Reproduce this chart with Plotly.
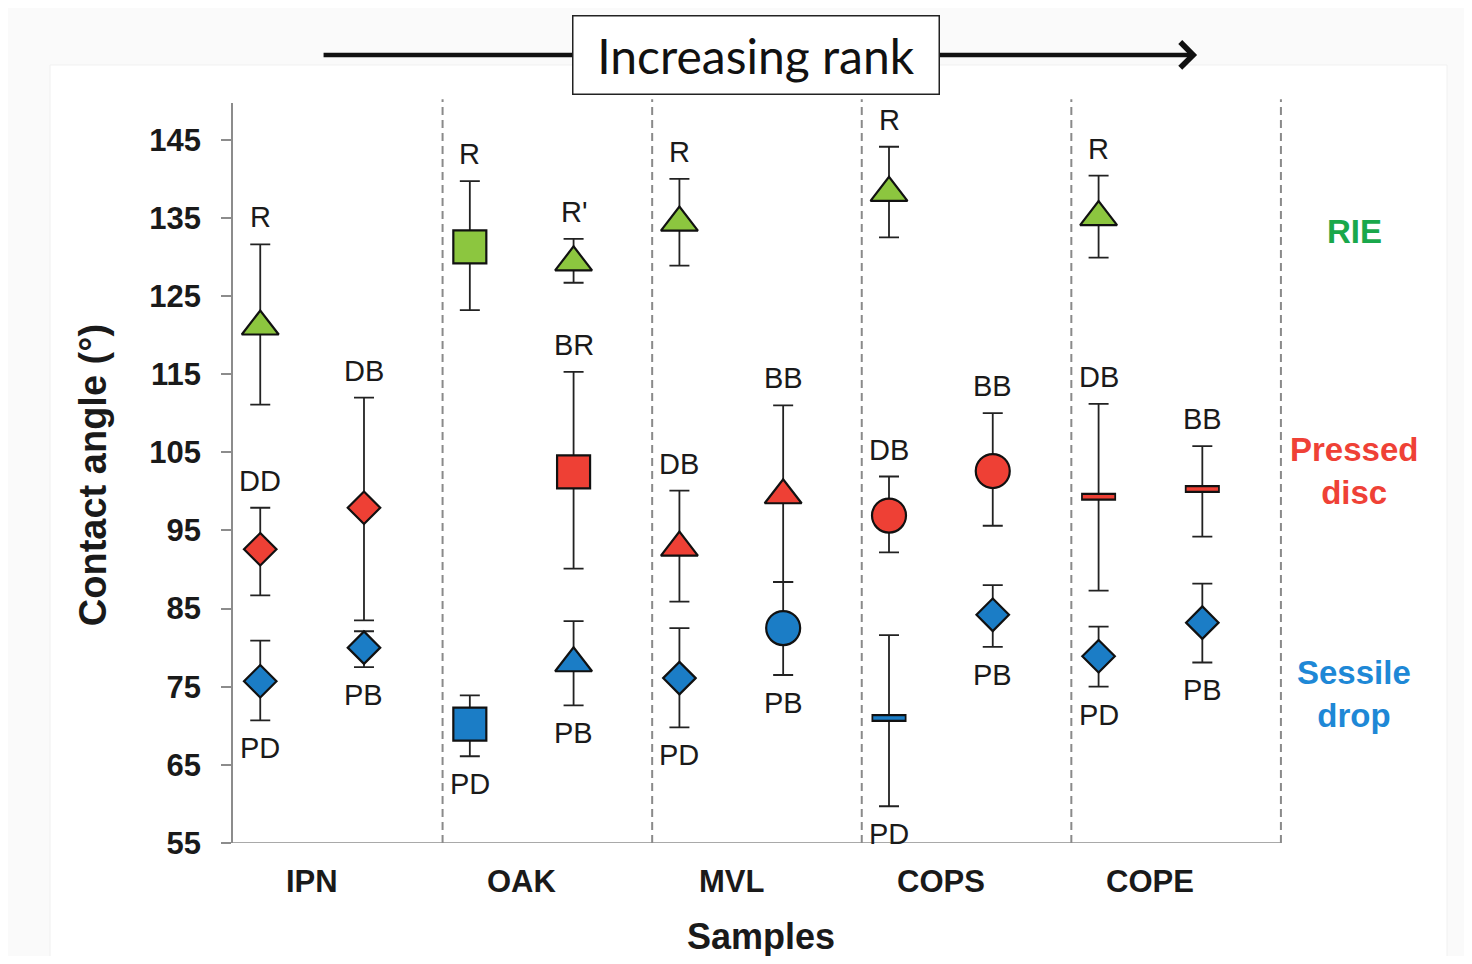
import plotly.graph_objects as go

# ---------------- data ----------------
samples = ["IPN", "OAK", "MVL", "COPS", "COPE"]
y_ticks = [55, 65, 75, 85, 95, 105, 115, 125, 135, 145]

pt_sample = [0, 0, 0, 0, 0,
             1, 1, 1, 1, 1,
             2, 2, 2, 2, 2,
             3, 3, 3, 3, 3,
             4, 4, 4, 4, 4]
pt_slot = [0, 0, 0, 1, 1,
           0, 0, 1, 1, 1,
           0, 0, 0, 1, 1,
           0, 0, 0, 1, 1,
           0, 0, 0, 1, 1]
pt_label = ["R", "DD", "PD", "DB", "PB",
            "R", "PD", "R'", "BR", "PB",
            "R", "DB", "PD", "BB", "PB",
            "R", "DB", "PD", "BB", "PB",
            "R", "DB", "PD", "BB", "PB"]
pt_method = ["RIE", "Pressed disc", "Sessile drop", "Pressed disc", "Sessile drop",
             "RIE", "Sessile drop", "RIE", "Pressed disc", "Sessile drop",
             "RIE", "Pressed disc", "Sessile drop", "Pressed disc", "Sessile drop",
             "RIE", "Pressed disc", "Sessile drop", "Pressed disc", "Sessile drop",
             "RIE", "Pressed disc", "Sessile drop", "Pressed disc", "Sessile drop"]
pt_value = [121.1, 92.6, 75.7, 97.9, 80.0,
            131.3, 70.2, 129.3, 102.5, 78.0,
            134.4, 92.8, 76.1, 99.5, 82.5,
            138.2, 96.9, 71.0, 102.6, 84.2,
            135.1, 99.3, 78.9, 100.3, 83.2]
pt_upper = [131.6, 97.9, 80.9, 112.0, 82.1,
            139.7, 73.9, 132.3, 115.3, 83.4,
            140.0, 100.1, 82.5, 111.0, 88.4,
            144.1, 101.9, 81.6, 110.0, 88.0,
            140.4, 111.2, 82.7, 105.8, 88.2]
pt_lower = [111.1, 86.7, 70.7, 83.5, 77.5,
            123.2, 66.1, 126.7, 90.1, 72.6,
            128.9, 85.9, 69.8, 88.4, 76.5,
            132.5, 92.2, 59.7, 95.6, 80.1,
            129.9, 87.3, 75.0, 94.2, 78.1]
pt_marker = ["triangle-up", "diamond", "diamond", "diamond", "diamond",
             "square", "square", "triangle-up", "square", "triangle-up",
             "triangle-up", "triangle-up", "diamond", "triangle-up", "circle",
             "triangle-up", "circle", "dash", "circle", "diamond",
             "triangle-up", "dash", "diamond", "dash", "diamond"]

# ---------------- styles ----------------
slot_offset = [0.13, 0.625]
method_color = {"RIE": "#8CC63F", "Pressed disc": "#EE4035", "Sessile drop": "#1B7DC6"}
legend_color = {"RIE": "#19A84B", "Pressed disc": "#EF4136", "Sessile drop": "#1E88D6"}
legend_pos = {"RIE": 133.2, "Pressed disc": 102.6, "Sessile drop": 74.1}
legend_text = {"RIE": "RIE", "Pressed disc": "Pressed<br>disc", "Sessile drop": "Sessile<br>drop"}
marker_size = {"triangle-up": 32, "square": 33, "diamond": 25, "circle": 34}

FONT = "Liberation Sans, Arial, sans-serif"
TXT = "#1a1a1a"

fig = go.Figure()
annotations = []

for i in range(len(pt_value)):
    x = pt_sample[i] + slot_offset[pt_slot[i]]
    v = pt_value[i]
    col = method_color[pt_method[i]]
    err = dict(type="data", symmetric=False,
               array=[pt_upper[i] - v], arrayminus=[v - pt_lower[i]],
               color="#222222", thickness=1.8, width=10)
    sym = pt_marker[i]
    if sym == "dash":
        fig.add_trace(go.Scatter(x=[x], y=[v], mode="markers", error_y=err,
                                 marker=dict(symbol="line-ew", size=25,
                                             line=dict(color="#111111", width=8)),
                                 showlegend=False, hoverinfo="skip"))
        fig.add_trace(go.Scatter(x=[x], y=[v], mode="markers",
                                 marker=dict(symbol="line-ew", size=22.5,
                                             line=dict(color=col, width=3.5)),
                                 showlegend=False, hoverinfo="skip"))
    else:
        fig.add_trace(go.Scatter(x=[x], y=[v], mode="markers", error_y=err,
                                 marker=dict(symbol=sym, size=marker_size[sym], color=col,
                                             line=dict(color="#111111", width=2.2)),
                                 showlegend=False, hoverinfo="skip"))
    above = pt_method[i] != "Sessile drop"
    annotations.append(dict(x=x, y=pt_upper[i] if above else pt_lower[i],
                            xref="x", yref="y", text=pt_label[i], showarrow=False,
                            yshift=27 if above else -28, yanchor="middle",
                            font=dict(family=FONT, size=29, color=TXT)))

# category labels
for j, s in enumerate(samples):
    annotations.append(dict(x=j + (slot_offset[0] + slot_offset[1]) / 2, y=-0.0527,
                            xref="x", yref="paper", text=s, showarrow=False,
                            yanchor="middle",
                            font=dict(family=FONT, size=31, color=TXT, weight="bold")))

# method labels on the right
for m in ["RIE", "Pressed disc", "Sessile drop"]:
    annotations.append(dict(x=5.35, y=legend_pos[m], xref="x", yref="y",
                            text=legend_text[m], showarrow=False, yanchor="middle",
                            font=dict(family=FONT, size=33, color=legend_color[m],
                                      weight="bold")))

# axis titles
annotations.append(dict(x=2.519, y=-0.1257, xref="x", yref="paper", text="Samples",
                        showarrow=False, yanchor="middle",
                        font=dict(family=FONT, size=36, color=TXT, weight="bold")))
annotations.append(dict(x=-0.116, y=0.497, xref="paper", yref="paper",
                        text="Contact angle (°)", textangle=-90, showarrow=False,
                        xanchor="center", yanchor="middle",
                        font=dict(family=FONT, size=38, color=TXT, weight="bold")))

# increasing rank arrow + box
annotations.append(dict(x=4.6, y=1.065, xref="x", yref="paper", ax=0.425, ay=0,
                        axref="x", ayref="pixel", text="", showarrow=True,
                        arrowhead=4, arrowsize=1.1, arrowwidth=4.5, arrowcolor="#111111",
                        standoff=0))
annotations.append(dict(x=0.4337, y=1.065, xref="paper", yref="paper",
                        text="Increasing rank", showarrow=False,
                        xanchor="center", yanchor="middle",
                        width=361, height=73, borderpad=2, borderwidth=1.5,
                        bordercolor="#222222", bgcolor="white",
                        font=dict(family="Lato, Open Sans, sans-serif", size=48,
                                  color="#111111")))

shapes = []
# faint slide frame
shapes.append(dict(type="rect", xref="paper", yref="paper", x0=-0.1516, x1=1.0058,
                   y0=-0.1635, y1=1.0514, fillcolor="white",
                   line=dict(color="#f0f0f0", width=1), layer="below"))
# dashed separators
for k in range(1, len(samples) + 1):
    shapes.append(dict(type="line", xref="x", yref="paper", x0=k, x1=k, y0=0, y1=1.005,
                       line=dict(color="#8a8a8a", width=2, dash="8px,5px")))
# x axis baseline
shapes.append(dict(type="line", xref="x", yref="y", x0=0, x1=len(samples),
                   y0=y_ticks[0], y1=y_ticks[0], line=dict(color="#8c8c8c", width=1.5)))

fig.update_layout(
    width=1456, height=948,
    margin=dict(l=225, r=24, t=95, b=113),
    paper_bgcolor="#fafafa", plot_bgcolor="white",
    showlegend=False,
    annotations=annotations, shapes=shapes,
    xaxis=dict(range=[0, 5.759], showgrid=False, zeroline=False,
               showticklabels=False, showline=False, ticks=""),
    yaxis=dict(range=[55, 149.7], tickvals=y_ticks, ticks="outside", ticklen=10,
               tickwidth=1.5, tickcolor="#8c8c8c", showline=True, linecolor="#8c8c8c",
               linewidth=1.5, showgrid=False, zeroline=False, ticklabelstandoff=14,
               tickfont=dict(family=FONT, size=31, color=TXT, weight="bold")),
)

fig.write_html("out.html")
